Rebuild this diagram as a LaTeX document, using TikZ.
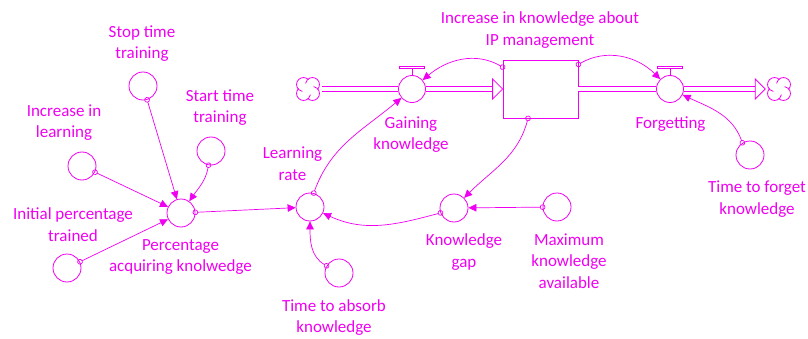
\documentclass[tikz,border=0pt]{standalone}
\usepackage{fontspec}
\setmainfont{Carlito}
\usetikzlibrary{arrows.meta,calc}
\definecolor{mag}{RGB}{240,0,240}
\begin{document}
\begin{tikzpicture}[x=1pt,y=1pt,
  every node/.style={font=\fontsize{17}{21.5}\selectfont, text=mag},
  aux/.style={circle, draw=mag, line width=0.8pt, minimum size=28pt, inner sep=0pt},
  valve/.style={circle, draw=mag, line width=0.8pt, minimum size=27pt, inner sep=0pt},
  lbl/.style={align=center, inner sep=0pt},
  conn/.style={draw=mag, line width=0.7pt, {Circle[open,length=5.5pt,width=5.5pt,line width=0.7pt]}-{Triangle[length=8pt,width=7.5pt]}, shorten <=-2.75pt},
  pipe/.style={draw=mag, line width=0.8pt, double=white, double distance=4.2pt},
  tip/.style={draw=mag, line width=0.8pt, fill=white},
  sky/.style={circle, minimum size=27pt, inner sep=0pt},
  bar/.style={draw=mag, line width=0.7pt},
  skypic/.pic={
    \foreach \t in {45,135,225,315}{
      \draw[mag, line width=0.8pt] (\t:6.3) ++(\t-90:7) arc[start angle=\t-90, end angle=\t+125, radius=7];
    }
  }
]
\useasboundingbox (0,0) rectangle (808,338);
% auxiliaries
\node[aux] (stop) at (143,252) {};
\node[aux] (incr) at (82,172) {};
\node[aux] (start) at (211,187) {};
\node[aux] (init) at (67,70) {};
\node[aux] (pak) at (181,125) {};
\node[aux] (lr) at (310,131) {};
\node[aux] (tab) at (339,65) {};
\node[aux] (kg) at (454,130) {};
\node[aux] (mka) at (557,131) {};
\node[aux] (ttf) at (750,183) {};
% stock and flows
\node[draw=mag, line width=0.8pt, minimum width=75pt, minimum height=58pt, inner sep=0pt] (stock) at (540.5,249) {};
\node[valve] (gain) at (412,249) {};
\node[valve] (forg) at (670,249) {};
\node[sky] (cloudL) at (308,249) {};
\node[sky] (cloudR) at (779,249) {};
\pic at (cloudL) {skypic};
\pic at (cloudR) {skypic};
% pipes
\draw[pipe] (cloudL.east) -- (gain.west);
\draw[pipe] (gain.east) -- ($(stock.west)+(-9,0)$);
\draw[tip] (stock.west) -- ++(-10,10) -- ++(0,-20) -- cycle;
\draw[pipe] (stock.east) -- (forg.west);
\draw[pipe] (forg.east) -- ($(cloudR.west)+(-9,0)$);
\draw[tip] (cloudR.west) -- ++(-10,10) -- ++(0,-20) -- cycle;
% valve handles
\draw[bar] (gain.north) -- ++(0,7.5);
\draw[bar, fill=white] ($(gain.north)+(-12.5,6.5)$) rectangle ($(gain.north)+(12.5,9)$);
\draw[bar] (forg.north) -- ++(0,7.5);
\draw[bar, fill=white] ($(forg.north)+(-12.5,6.5)$) rectangle ($(forg.north)+(12.5,9)$);
% labels
\node[lbl] (tstop) at (142,294.5) {Stop time\\training};
\node[lbl] (tincr) at (64,215.5) {Increase in\\learning};
\node[lbl] (tstart) at (220,230.5) {Start time\\training};
\node[lbl] (tinit) at (73,113.5) {Initial percentage\\trained};
\node[lbl] (tpak) at (180.5,81) {Percentage\\acquiring knolwedge};
\node[lbl] (tlr) at (292.5,174.5) {Learning\\rate};
\node[lbl] (ttab) at (334,20.5) {Time to absorb\\knowledge};
\node[lbl] (tstock) at (540,308) {Increase in knowledge about\\IP management};
\node[lbl] (tgain) at (411,203.5) {Gaining\\knowledge};
\node[lbl] (tforg) at (670.5,214) {Forgetting};
\node[lbl] (tkg) at (464,86) {Knowledge\\gap};
\node[lbl] (tmka) at (569,77) {Maximum\\knowledge\\available};
\node[lbl] (tttf) at (757,139) {Time to forget\\knowledge};
% connectors
\draw[conn] (stop) -- (pak);
\draw[conn] (incr) -- (pak);
\draw[conn] (init) -- (pak);
\draw[conn] (start.-100) to[out=-100,in=55] (pak);
\draw[conn] (pak) -- (lr);
\draw[conn] (tab.150) to[out=150,in=-90] (lr);
\draw[conn] (kg.200) to[out=195,in=-25] (lr);
\draw[conn] (lr.75) to[out=70,in=-140] (gain);
\draw[conn] (stock.150) to[out=150,in=40] (gain);
\draw[conn] (stock.33) to[out=30,in=135] (forg);
\draw[conn] (stock.-113) to[out=-105,in=45] (kg);
\draw[conn] (mka) -- (kg);
\draw[conn] (ttf.122) to[out=110,in=-25] (forg);
\end{tikzpicture}
\end{document}
